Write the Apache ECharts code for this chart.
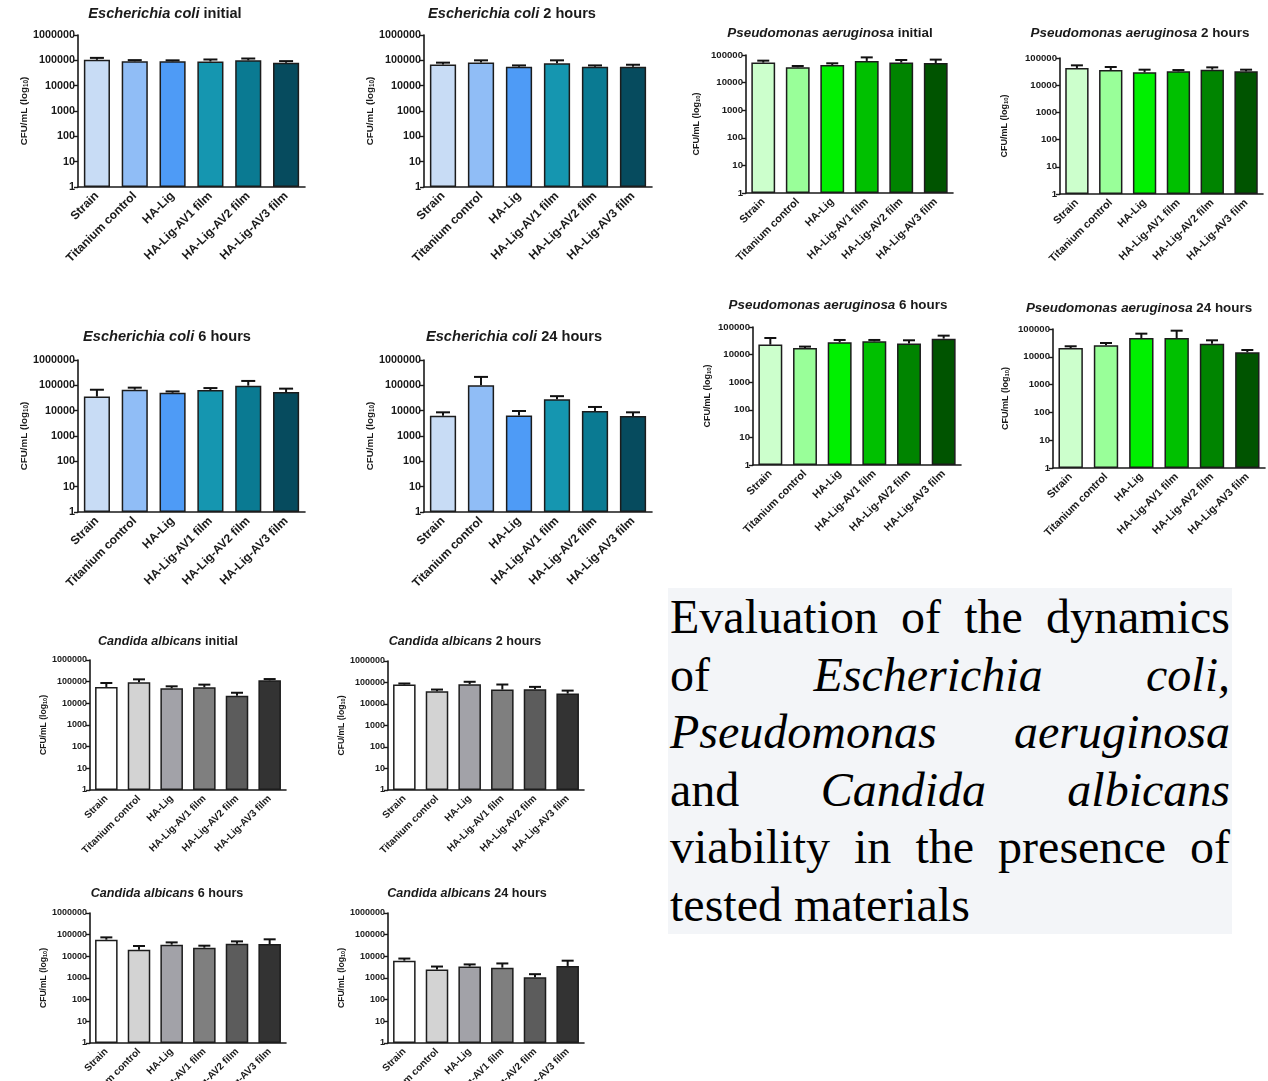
<!DOCTYPE html>
<html>
<head>
<meta charset="utf-8">
<script src="https://cdn.jsdelivr.net/npm/echarts@6/dist/echarts.min.js"></script>
<style>
  body { margin: 0; background: #fff; }
  #wrap { position: relative; width: 1268px; height: 1081px; overflow: hidden; }
  #chart { width: 1268px; height: 1081px; }
  #caption {
    position: absolute; left: 668px; top: 588px; width: 564px; height: 346px;
    box-sizing: border-box; padding: 0 2px;
    background: #f3f5f8; color: #000;
    font-family: 'Liberation Serif', 'Times New Roman', serif;
    font-size: 48px; line-height: 57.6px; text-align: justify;
  }
</style>
</head>
<body>
<div id="wrap">
  <div id="chart"></div>
  <div id="caption">Evaluation of the dynamics of <i>Escherichia coli,</i> <i>Pseudomonas aeruginosa</i> and <i>Candida albicans</i> viability in the presence of tested materials</div>
</div>
<script>
const categories = ['Strain', 'Titanium control', 'HA-Lig', 'HA-Lig-AV1 film', 'HA-Lig-AV2 film', 'HA-Lig-AV3 film']

const ecoliColors = ['#c8dcf5', '#90bdf6', '#4e9bf6', '#1596b0', '#0a7a92', '#064b5e']
const paerColors = ['#ccffcc', '#99ff99', '#00f000', '#00c000', '#008400', '#005400']
const calbColors = ['#ffffff', '#d3d3d3', '#a2a2a8', '#7f7f7f', '#5c5c5c', '#333333']

// E. coli, CFU/mL (mean) and upper error (sd)
const ecoliInitial = [105000, 92000, 92000, 90000, 100000, 80000]
const ecoliInitialSd = [20000, 10000, 8000, 18000, 18000, 13000]
const ecoli2h = [69000, 83000, 56000, 76000, 56000, 56000]
const ecoli2hSd = [12000, 17000, 7000, 24000, 7000, 11000]
const ecoli6h = [36000, 67000, 51000, 65000, 97000, 54000]
const ecoli6hSd = [31000, 14000, 6500, 13000, 52000, 20000]
const ecoli24h = [6300, 100000, 6500, 28400, 9700, 6100]
const ecoli24hSd = [2300, 115000, 3200, 9000, 4300, 2500]

// P. aeruginosa
const paerInitial = [53000, 36000, 43500, 61000, 53000, 51000]
const paerInitialSd = [9400, 4000, 6500, 21000, 13000, 17000]
const paer2h = [43000, 36000, 29700, 32300, 37200, 32300]
const paer2hSd = [10700, 10600, 7500, 3800, 8100, 4900]
const paer6h = [23000, 17400, 27900, 30400, 25000, 37900]
const paer6hSd = [17000, 2100, 6000, 3500, 8000, 10700]
const paer24h = [20700, 25900, 47500, 47500, 29700, 14500]
const paer24hSd = [3200, 5500, 20500, 39500, 9500, 3100]

// C. albicans
const calbInitial = [57000, 93000, 49500, 55000, 22400, 115000]
const calbInitialSd = [30000, 35000, 11500, 18000, 8400, 17000]
const calb2h = [80600, 39300, 83600, 47000, 48600, 30500]
const calb2hSd = [9200, 7700, 24400, 33600, 14000, 11500]
const calb6h = [58600, 20200, 34400, 25000, 38300, 37000]
const calb6hSd = [16400, 9800, 9600, 6000, 10700, 24000]
const calb24h = [6300, 2500, 3380, 3000, 1070, 3600]
const calb24hSd = [1600, 880, 860, 1700, 430, 2700]

const FONT = "'Liberation Sans', Arial, sans-serif"
const big = { title: 14.6, tick: 10.8, label: 12, name: 9.8, cap: 7 }
const mid = { title: 13.4, tick: 9.6, label: 10.8, name: 9, cap: 6 }
const small = { title: 12.6, tick: 9, label: 10, name: 8.6, cap: 6 }

// layout: grid [left, top, width, height], title centre [x, y], nameGap
const panels = [
  { sp: 'Escherichia coli', t: 'initial', m: ecoliInitial, sd: ecoliInitialSd, c: ecoliColors, max: 1e6, g: [78, 35, 227, 152], tt: [165, 15], ng: 47, f: big },
  { sp: 'Escherichia coli', t: '2 hours', m: ecoli2h, sd: ecoli2hSd, c: ecoliColors, max: 1e6, g: [424, 35, 228, 152], tt: [512, 15], ng: 46, f: big },
  { sp: 'Pseudomonas aeruginosa', t: 'initial', m: paerInitial, sd: paerInitialSd, c: paerColors, max: 1e5, g: [746, 55, 207, 138], tt: [830, 35], ng: 45, f: mid },
  { sp: 'Pseudomonas aeruginosa', t: '2 hours', m: paer2h, sd: paer2hSd, c: paerColors, max: 1e5, g: [1060, 58, 203, 136], tt: [1140, 35], ng: 51, f: mid },
  { sp: 'Escherichia coli', t: '6 hours', m: ecoli6h, sd: ecoli6hSd, c: ecoliColors, max: 1e6, g: [78, 360, 227, 152], tt: [167, 338], ng: 47, f: big },
  { sp: 'Escherichia coli', t: '24 hours', m: ecoli24h, sd: ecoli24hSd, c: ecoliColors, max: 1e6, g: [424, 360, 228, 152], tt: [514, 338], ng: 46, f: big },
  { sp: 'Pseudomonas aeruginosa', t: '6 hours', m: paer6h, sd: paer6hSd, c: paerColors, max: 1e5, g: [753, 327, 208, 138], tt: [838, 307], ng: 41, f: mid },
  { sp: 'Pseudomonas aeruginosa', t: '24 hours', m: paer24h, sd: paer24hSd, c: paerColors, max: 1e5, g: [1053, 329, 212, 139], tt: [1139, 310], ng: 43, f: mid },
  { sp: 'Candida albicans', t: 'initial', m: calbInitial, sd: calbInitialSd, c: calbColors, max: 1e6, g: [90, 660, 196, 130], tt: [168, 642], ng: 40, f: small },
  { sp: 'Candida albicans', t: '2 hours', m: calb2h, sd: calb2hSd, c: calbColors, max: 1e6, g: [388, 661, 196, 129], tt: [465, 642], ng: 41, f: small },
  { sp: 'Candida albicans', t: '6 hours', m: calb6h, sd: calb6hSd, c: calbColors, max: 1e6, g: [90, 913, 196, 130], tt: [167, 894], ng: 40, f: small },
  { sp: 'Candida albicans', t: '24 hours', m: calb24h, sd: calb24hSd, c: calbColors, max: 1e6, g: [388, 913, 196, 130], tt: [467, 894], ng: 38, f: small }
]

let myChart = echarts.init(document.getElementById('chart'))
let option = { animation: false, title: [], grid: [], xAxis: [], yAxis: [], series: [] }

panels.forEach((p, i) => {
  option.title.push({
    text: '{i|' + p.sp + '} ' + p.t,
    left: p.tt[0],
    top: p.tt[1] - p.f.title / 2 - 1,
    textAlign: 'center',
    padding: 0,
    textStyle: {
      fontFamily: FONT, fontSize: p.f.title, fontWeight: 'bold', color: '#1a1a1a',
      rich: { i: { fontFamily: FONT, fontSize: p.f.title, fontWeight: 'bold', fontStyle: 'italic', color: '#1a1a1a' } }
    }
  })
  // outerBoundsMode none: keep the grid size fixed even when labels run off the page
  option.grid.push({ left: p.g[0], top: p.g[1], width: p.g[2], height: p.g[3], containLabel: false, outerBoundsMode: 'none' })
  option.xAxis.push({
    type: 'category',
    gridIndex: i,
    data: categories,
    axisLine: { lineStyle: { color: '#1a1a1a', width: 1.6 } },
    axisTick: { alignWithLabel: true, length: 4, lineStyle: { color: '#1a1a1a', width: 1.4 } },
    axisLabel: { rotate: 45, interval: 0, margin: 7, fontFamily: FONT, fontSize: p.f.label, fontWeight: 'bold', color: '#1a1a1a' }
  })
  option.yAxis.push({
    type: 'log',
    logBase: 10,
    gridIndex: i,
    min: 1,
    max: p.max,
    splitNumber: p.max === 1e6 ? 6 : 5,
    axisLine: { show: true, lineStyle: { color: '#1a1a1a', width: 1.6 } },
    axisTick: { show: true, length: 4, lineStyle: { color: '#1a1a1a', width: 1.4 } },
    splitLine: { show: false },
    axisLabel: { margin: 3, fontFamily: FONT, fontSize: p.f.tick, fontWeight: 'bold', color: '#1a1a1a', formatter: v => String(Math.round(v)) },
    name: 'CFU/mL (log{s|10})',
    nameLocation: 'middle',
    nameRotate: 90,
    nameGap: p.ng,
    nameTextStyle: {
      fontFamily: FONT, fontSize: p.f.name, fontWeight: 'bold', color: '#1a1a1a',
      rich: { s: { fontFamily: FONT, fontSize: p.f.name * 0.65, fontWeight: 'bold', color: '#1a1a1a', verticalAlign: 'bottom', padding: [3, 0, 0, 0] } }
    }
  })
  option.series.push({
    type: 'bar',
    xAxisIndex: i,
    yAxisIndex: i,
    barWidth: '69%',
    data: p.m.map((v, k) => ({ value: v, itemStyle: { color: p.c[k] } })),
    itemStyle: { borderColor: '#1c1c1c', borderWidth: 1.5 }
  })
  let cap = p.f.cap
  option.series.push({
    type: 'custom',
    xAxisIndex: i,
    yAxisIndex: i,
    z: 5,
    encode: { x: 0, y: [1, 2] },
    data: p.m.map((v, k) => [k, v, v + p.sd[k]]),
    renderItem: (params, api) => {
      let base = api.coord([api.value(0), api.value(1)])
      let top = api.coord([api.value(0), api.value(2)])
      let st = { stroke: '#111', lineWidth: 2 }
      return {
        type: 'group',
        children: [
          { type: 'line', shape: { x1: base[0], y1: base[1], x2: top[0], y2: top[1] }, style: st },
          { type: 'line', shape: { x1: top[0] - cap, y1: top[1], x2: top[0] + cap, y2: top[1] }, style: st }
        ]
      }
    }
  })
})

myChart.setOption(option)
</script>
</body>
</html>
